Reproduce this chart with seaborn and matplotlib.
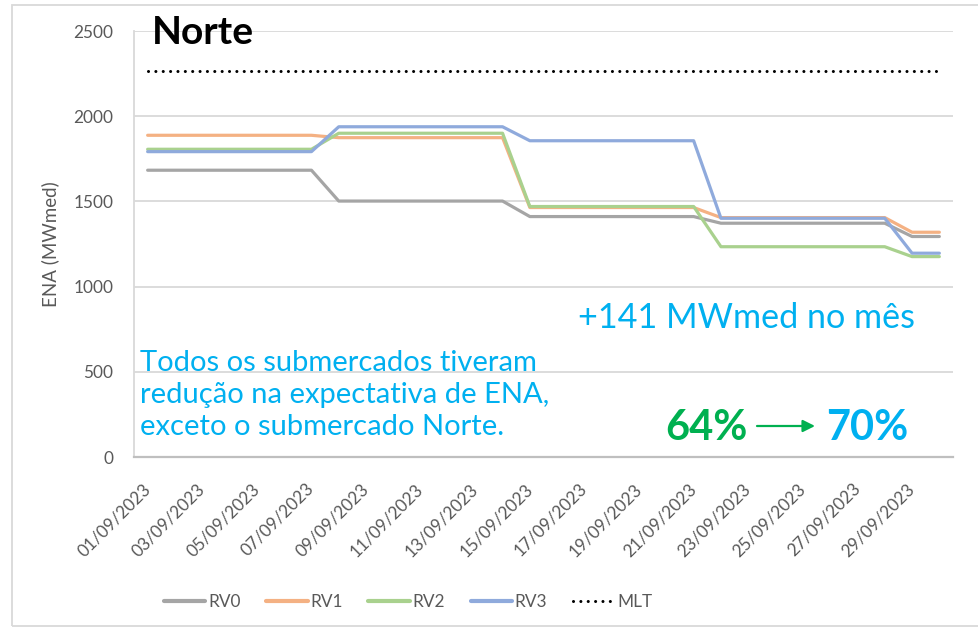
import matplotlib
matplotlib.use("Agg")
import matplotlib.pyplot as plt
from matplotlib.lines import Line2D
from matplotlib.patches import Rectangle
import seaborn as sns
import pandas as pd

# ---- data ----
dates = ["01/09/2023", "02/09/2023", "03/09/2023", "04/09/2023", "05/09/2023",
         "06/09/2023", "07/09/2023", "08/09/2023", "09/09/2023", "10/09/2023",
         "11/09/2023", "12/09/2023", "13/09/2023", "14/09/2023", "15/09/2023",
         "16/09/2023", "17/09/2023", "18/09/2023", "19/09/2023", "20/09/2023",
         "21/09/2023", "22/09/2023", "23/09/2023", "24/09/2023", "25/09/2023",
         "26/09/2023", "27/09/2023", "28/09/2023", "29/09/2023", "30/09/2023"]
rv0 = [1683, 1683, 1683, 1683, 1683, 1683, 1683, 1502, 1502, 1502,
       1502, 1502, 1502, 1502, 1411, 1411, 1411, 1411, 1411, 1411,
       1411, 1372, 1372, 1372, 1372, 1372, 1372, 1372, 1294, 1294]
rv1 = [1888, 1888, 1888, 1888, 1888, 1888, 1888, 1874, 1874, 1874,
       1874, 1874, 1874, 1874, 1464, 1464, 1464, 1464, 1464, 1464,
       1464, 1405, 1405, 1405, 1405, 1405, 1405, 1405, 1319, 1319]
rv2 = [1806, 1806, 1806, 1806, 1806, 1806, 1806, 1900, 1900, 1900,
       1900, 1900, 1900, 1900, 1470, 1470, 1470, 1470, 1470, 1470,
       1470, 1234, 1234, 1234, 1234, 1234, 1234, 1234, 1176, 1176]
rv3 = [1792, 1792, 1792, 1792, 1792, 1792, 1792, 1938, 1938, 1938,
       1938, 1938, 1938, 1938, 1856, 1856, 1856, 1856, 1856, 1856,
       1856, 1401, 1401, 1401, 1401, 1401, 1401, 1401, 1196, 1196]
mlt = [2266, 2266, 2266, 2266, 2266, 2266, 2266, 2266, 2266, 2266,
       2266, 2266, 2266, 2266, 2266, 2266, 2266, 2266, 2266, 2266,
       2266, 2266, 2266, 2266, 2266, 2266, 2266, 2266, 2266, 2266]
series_names = ["RV0", "RV1", "RV2", "RV3"]
series_vals = [rv0, rv1, rv2, rv3]
series_colors = ["#A5A5A5", "#F4B183", "#A9D18E", "#8FAADC"]

sns.set_theme(style="white")
plt.rcParams["font.family"] = ["Lato", "DejaVu Sans"]

W, H = 979, 627
fig = plt.figure(figsize=(W / 100, H / 100), dpi=100)
ax = fig.add_axes([134 / W, (H - 457) / H, (953 - 134) / W, (457 - 31) / H])

DOT = (0, (0.01, 2.4))

idx = list(range(len(dates)))
for name, vals, col in zip(series_names, series_vals, series_colors):
    df = pd.DataFrame({"idx": idx, "val": vals})
    sns.lineplot(data=df, x="idx", y="val", color=col, linewidth=2.3, ax=ax,
                 legend=False, zorder=3)
df_mlt = pd.DataFrame({"idx": idx, "val": mlt})
sns.lineplot(data=df_mlt, x="idx", y="val", color="black", linewidth=2.2,
             dashes=False, ax=ax, legend=False, zorder=3)
ax.lines[-1].set_linestyle(DOT)
ax.lines[-1].set_dash_capstyle("round")

ax.set_xlim(-0.5, len(dates) - 0.5)
ax.set_ylim(0, 2500)
ax.set_yticks([0, 500, 1000, 1500, 2000, 2500])
ax.set_xticks(idx[::2])
ax.set_xticklabels(dates[::2], rotation=45, ha="right", va="center",
                   rotation_mode="anchor")
ax.tick_params(axis="x", length=0, pad=21, labelsize=12.4, labelcolor="#595959")
ax.tick_params(axis="y", length=0, pad=15, labelsize=12.4, labelcolor="#595959")
ax.set_xlabel("")
ax.set_ylabel("ENA (MWmed)", fontsize=13.5, color="#595959", labelpad=10)

ax.yaxis.grid(True, color="#D9D9D9", linewidth=1.3)
ax.set_axisbelow(True)
for s in ["top", "right"]:
    ax.spines[s].set_visible(False)
ax.spines["left"].set_color("#D9D9D9")
ax.spines["left"].set_linewidth(1.3)
ax.spines["bottom"].set_color("#BFBFBF")
ax.spines["bottom"].set_linewidth(1.6)

# outer chart border (cropped on the right)
fig.add_artist(Rectangle((12 / W, 1 / H), 1.0, (H - 6) / H,
                         transform=fig.transFigure, fill=False,
                         edgecolor="#D9D9D9", linewidth=1.3))

# texts
fig.text(152 / W, 1 - 33 / H, "Norte", fontsize=28, fontweight="bold",
         color="black", ha="left", va="center")
fig.text(578 / W, 1 - 318 / H, "+141 MWmed no mês", fontsize=24.6,
         color="#00B0F0", ha="left", va="center")
fig.text(140 / W, 1 - 395 / H,
         "Todos os submercados tiveram\nredução na expectativa de ENA,\nexceto o submercado Norte.",
         fontsize=21, color="#00B0F0", ha="left", va="center", linespacing=1.27)
fig.text(665 / W, 1 - 428 / H, "64%", fontsize=30, fontweight="bold",
         color="#00B050", ha="left", va="center")
fig.text(826 / W, 1 - 428 / H, "70%", fontsize=30, fontweight="bold",
         color="#00B0F0", ha="left", va="center")
ax.annotate("", xy=(815 / W, 1 - 426 / H), xytext=(757 / W, 1 - 426 / H),
            xycoords="figure fraction", textcoords="figure fraction",
            arrowprops=dict(arrowstyle="-|>", color="#00B050", lw=1.6,
                            mutation_scale=18, shrinkA=0, shrinkB=0))

# legend
handles = [Line2D([0], [0], color=c, lw=3) for c in series_colors]
handles.append(Line2D([0], [0], color="black", lw=2.2, linestyle=DOT,
                      dash_capstyle="round"))
labels = series_names + ["MLT"]
fig.legend(handles, labels, loc="center", bbox_to_anchor=(408 / W, 1 - 602 / H),
           ncol=5, frameon=False, handlelength=2.4, columnspacing=1.5,
           handletextpad=0.15, fontsize=12.4, labelcolor="#595959")

fig.savefig("out.png", dpi=100)
